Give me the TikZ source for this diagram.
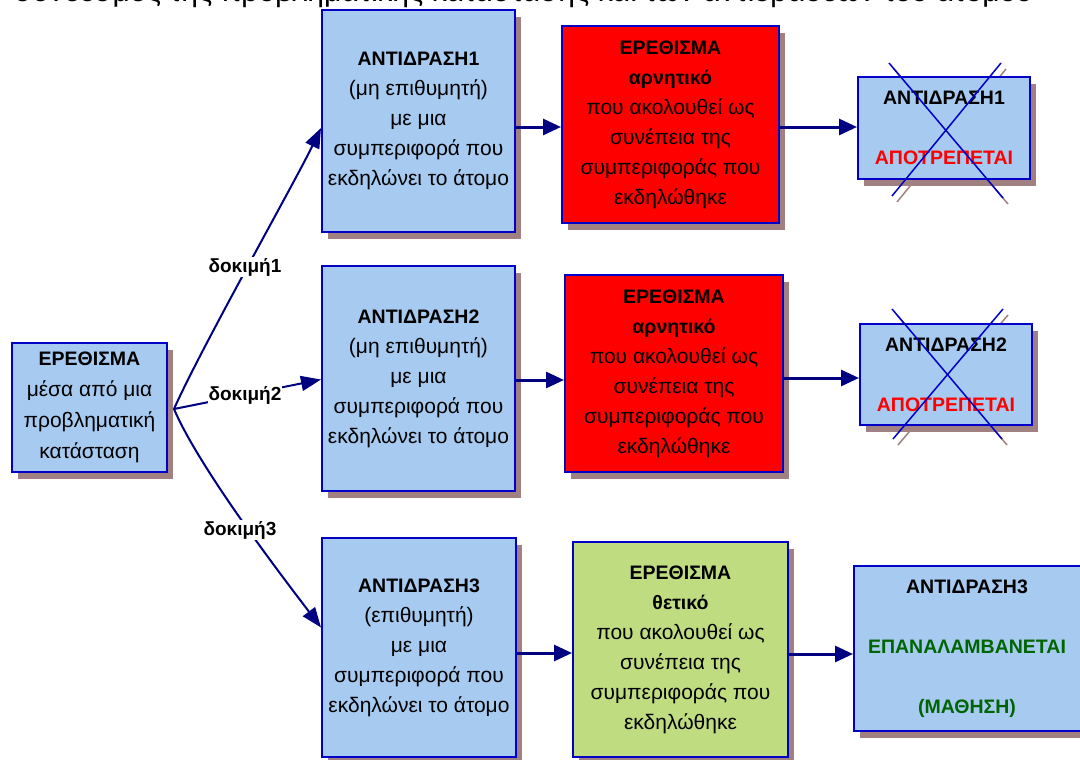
\documentclass[tikz,border=0pt]{standalone}
\usepackage{fontspec}
\setmainfont{Liberation Sans}
\usetikzlibrary{arrows.meta,shadows,calc}
\definecolor{boxblue}{HTML}{A6CAF0}
\definecolor{edgeblue}{HTML}{0000C8}
\definecolor{shadowc}{HTML}{A08080}
\definecolor{navy}{HTML}{000080}
\definecolor{grn}{HTML}{C0DC80}
\definecolor{dgreen}{HTML}{006400}
\newcommand\hd[1]{{\fontsize{19.5}{30}\selectfont\bfseries #1}}
\tikzset{
  basebox/.style={draw=edgeblue, line width=2pt, align=center, inner sep=0pt,
    font=\fontsize{21}{30}\selectfont,
    drop shadow={shadow xshift=6pt, shadow yshift=-7pt, fill=shadowc, opacity=1}},
  bluebox/.style={basebox, fill=boxblue},
  redbox/.style={basebox, fill=red},
  greenbox/.style={basebox, fill=grn},
  conn/.style={draw=navy, line width=2pt, -{Triangle[length=20pt,width=15pt]}},
  harrow/.style={draw=navy, line width=3pt, -{Triangle[length=18pt,width=16pt]}},
  trial/.style={fill=white, inner sep=1pt, font=\fontsize{19}{22}\selectfont\bfseries},
  xline/.style={draw=edgeblue, line width=1.5pt},
  xshadow/.style={draw=shadowc, line width=1.5pt},
}
\begin{document}
\begin{tikzpicture}[x=1pt, y=-1pt]
\useasboundingbox (0,0) rectangle (1080,760);
% cut-off heading
\node[anchor=base west, inner sep=0pt, font=\fontsize{30}{32}\selectfont] (title) at (14,1.5)
  {σύνδεσμος της προβληματικής κατάστασης και των αντιδράσεων του ατόμου};
% shadows of the crosses
\draw[xshadow] (894,69) -- (1008,204);
\draw[xshadow] (1006,69) -- (897,202);
\draw[xshadow] (897,315) -- (1007,445);
\draw[xshadow] (1008,315) -- (898,445);
% boxes
\node[bluebox, minimum width=155pt, minimum height=129pt, font=\fontsize{21}{31}\selectfont] (e0) at (89.5,407.5)
  {\hd{ΕΡΕΘΙΣΜΑ}\\μέσα από μια\\προβληματική\\κατάσταση};
\node[bluebox, minimum width=193pt, minimum height=222pt] (a1) at (418.5,121)
  {\hd{ΑΝΤΙΔΡΑΣΗ1}\\(μη επιθυμητή)\\με μια\\συμπεριφορά που\\εκδηλώνει το άτομο};
\node[redbox, minimum width=217pt, minimum height=197pt] (r1) at (670.5,124.5)
  {\hd{ΕΡΕΘΙΣΜΑ}\\\hd{αρνητικό}\\που ακολουθεί ως\\συνέπεια της\\συμπεριφοράς που\\εκδηλώθηκε};
\node[bluebox, minimum width=172pt, minimum height=102pt] (x1) at (944,128)
  {\hd{ΑΝΤΙΔΡΑΣΗ1}\\[30pt]\hd{\color{red}ΑΠΟΤΡΕΠΕΤΑΙ}};
\node[bluebox, minimum width=193pt, minimum height=225pt] (a2) at (418.5,378.5)
  {\hd{ΑΝΤΙΔΡΑΣΗ2}\\(μη επιθυμητή)\\με μια\\συμπεριφορά που\\εκδηλώνει το άτομο};
\node[redbox, minimum width=218pt, minimum height=197pt] (r2) at (674,373.5)
  {\hd{ΕΡΕΘΙΣΜΑ}\\\hd{αρνητικό}\\που ακολουθεί ως\\συνέπεια της\\συμπεριφοράς που\\εκδηλώθηκε};
\node[bluebox, minimum width=172pt, minimum height=101pt] (x2) at (946,374.5)
  {\hd{ΑΝΤΙΔΡΑΣΗ2}\\[30pt]\hd{\color{red}ΑΠΟΤΡΕΠΕΤΑΙ}};
\node[bluebox, minimum width=194pt, minimum height=219pt] (a3) at (419,647.5)
  {\hd{ΑΝΤΙΔΡΑΣΗ3}\\(επιθυμητή)\\με μια\\συμπεριφορά που\\εκδηλώνει το άτομο};
\node[greenbox, minimum width=215pt, minimum height=215pt] (g3) at (680.5,649.5)
  {\hd{ΕΡΕΘΙΣΜΑ}\\\hd{θετικό}\\που ακολουθεί ως\\συνέπεια της\\συμπεριφοράς που\\εκδηλώθηκε};
\node[bluebox, minimum width=236pt, minimum height=165pt] (b3) at (972,648.5) {};
\node[align=center, inner sep=0pt, font=\fontsize{21}{30}\selectfont] (b3text) at (967,649)
  {\hd{ΑΝΤΙΔΡΑΣΗ3}\\[30pt]\hd{\color{dgreen}ΕΠΑΝΑΛΑΜΒΑΝΕΤΑΙ}\\[30pt]\hd{\color{dgreen}(ΜΑΘΗΣΗ)}};
% crosses
\draw[xline] (889,63) -- (1003,198);
\draw[xline] (1001,63) -- (892,196);
\draw[xline] (892,309) -- (1002,439);
\draw[xline] (1003,309) -- (893,439);
% connectors from the stimulus
\coordinate (src) at (174,409);
\draw[conn] (src) .. controls (200,350) and (296,180) .. ($(a1.west)+(0,7)$);
\draw[conn] (src) -- ($(a2.west)+(0,1)$);
\draw[conn] (src) .. controls (200,470) and (288,584) .. ($(a3.west)+(0,-20)$);
\node[trial] (d1) at (245,267) {δοκιμή1};
\node[trial] (d2) at (245,395) {δοκιμή2};
\node[trial] (d3) at (240,530) {δοκιμή3};
% horizontal arrows
\draw[harrow] (a1.east |- 0,127) -- (r1.west |- 0,127);
\draw[harrow] (r1.east |- 0,127) -- (x1.west |- 0,127);
\draw[harrow] (a2.east |- 0,380) -- (r2.west |- 0,380);
\draw[harrow] (r2.east |- 0,378) -- (x2.west |- 0,378);
\draw[harrow] (a3.east |- 0,653) -- (g3.west |- 0,653);
\draw[harrow] (g3.east |- 0,654) -- (b3.west |- 0,654);
\end{tikzpicture}
\end{document}
